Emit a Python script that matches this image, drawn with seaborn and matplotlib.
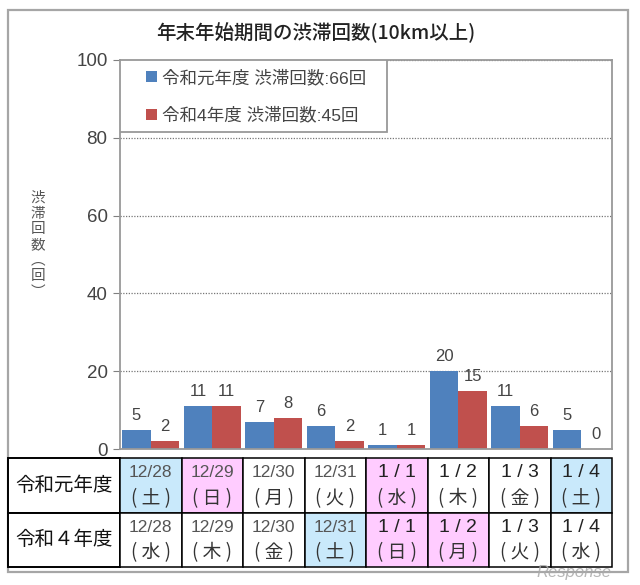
import matplotlib
matplotlib.use("Agg")
import matplotlib.pyplot as plt
from matplotlib.patches import Rectangle
import pandas as pd
import seaborn as sns

CJK = "Noto Sans CJK JP"
LATIN = "Liberation Sans"
plt.rcParams["font.family"] = [LATIN, CJK, "DejaVu Sans"]

categories = ["12/28", "12/29", "12/30", "12/31", "1/1", "1/2", "1/3", "1/4"]
series_names = ["令和元年度 渋滞回数:66回", "令和4年度 渋滞回数:45回"]
values_r1 = [5, 11, 7, 6, 1, 20, 11, 5]
values_r4 = [2, 11, 8, 2, 1, 15, 6, 0]
bar_colors = ["#4F81BD", "#C0504D"]
title = "年末年始期間の渋滞回数(10km以上)"
ylabel = "渋\n滞\n回\n数\n︵\n回\n︶"
row_labels = ["令和元年度", "令和４年度"]
dates_r1 = ["12/28", "12/29", "12/30", "12/31", "1 / 1", "1 / 2", "1 / 3", "1 / 4"]
days_r1 = ["( 土 )", "( 日 )", "( 月 )", "( 火 )", "( 水 )", "( 木 )", "( 金 )", "( 土 )"]
dates_r4 = ["12/28", "12/29", "12/30", "12/31", "1 / 1", "1 / 2", "1 / 3", "1 / 4"]
days_r4 = ["( 水 )", "( 木 )", "( 金 )", "( 土 )", "( 日 )", "( 月 )", "( 火 )", "( 水 )"]
fills_r1 = ["#C9E9FB", "#FFCCFF", "white", "white", "#FFCCFF", "white", "white", "#C9E9FB"]
fills_r4 = ["white", "white", "white", "#C9E9FB", "#FFCCFF", "#FFCCFF", "white", "white"]

W, H = 640, 585
fig = plt.figure(figsize=(W / 100, H / 100), dpi=100)
fig.add_artist(Rectangle((8 / W, 1 - 572 / H), 620 / W, 562 / H, transform=fig.transFigure,
                         fc="white", ec="#A6A6A6", lw=1.6, zorder=-5))


def box(l, t, r, b):
    return [l / W, 1 - b / H, (r - l) / W, (b - t) / H]


AX_W, AX_H = 492, 389
ax = fig.add_axes(box(120, 60, 612, 449))
ax.patch.set_alpha(0)
df = pd.DataFrame({
    "day": categories * 2,
    "count": values_r1 + values_r4,
    "series": [series_names[0]] * 8 + [series_names[1]] * 8,
})
sns.barplot(data=df, x="day", y="count", hue="series", palette=bar_colors,
            saturation=1, width=0.93, gap=0, ax=ax, legend=True)
ax.set_xlim(-0.5, 7.5)
ax.set_ylim(0, 100)
ax.set_yticks(range(0, 101, 20))
ax.set_xticks([])
ax.set_xlabel("")
ax.set_ylabel("")
ax.grid(axis="y", color="#777777", ls=(0, (1, 1.2)), lw=0.9)
ax.set_axisbelow(True)
ax.tick_params(axis="y", length=5, color="#808080", labelsize=13.5, labelcolor="#444444", pad=4)
for s in ax.spines.values():
    s.set_color("#999999")
    s.set_linewidth(1.3)
for c in ax.containers:
    ax.bar_label(c, fontsize=12, color="#444444", padding=5)

ax.add_patch(Rectangle((0, 1 - 72 / AX_H), 267 / AX_W, 72 / AX_H, transform=ax.transAxes,
                       fc="white", ec="#999999", lw=1.3, zorder=4))
leg = ax.legend(loc="upper left", bbox_to_anchor=(26 / AX_W, 1 - 9 / AX_H), borderaxespad=0,
                frameon=False, fontsize=12.6, labelcolor="#444444", handlelength=0.6,
                handleheight=0.6, handletextpad=0.3, labelspacing=1.2, borderpad=0, title=None)
leg.set_zorder(5)

fig.text(316 / W, 1 - 33 / H, title, ha="center", va="center", fontsize=14,
         color="#222222", fontweight="medium", family=[CJK])
fig.text(38 / W, 1 - 245 / H, ylabel, ha="center", va="center", fontsize=10.5,
         color="#555555", linespacing=1.15, family=[CJK])

# day table below the chart
tax = fig.add_axes(box(8, 458, 612, 567))
tax.set_xlim(0, 604)
tax.set_ylim(2, 0)
tax.axis("off")
cw = 492 / 8
x0 = 112
rows = [(dates_r1, days_r1, fills_r1), (dates_r4, days_r4, fills_r4)]
for r, (dates, days, fills) in enumerate(rows):
    tax.add_patch(Rectangle((0, r), x0, 1, fc="white", ec="black", lw=1.4, clip_on=False))
    tax.text(x0 / 2, r + 0.5, row_labels[r], ha="center", va="center", fontsize=14,
             color="#111111", family=[CJK])
    for i in range(8):
        x = x0 + i * cw
        tax.add_patch(Rectangle((x, r), cw, 1, fc=fills[i], ec="black", lw=1.1, clip_on=False))
        small = "12" in dates[i]
        tax.text(x + cw / 2, r + 0.27, dates[i], ha="center", va="center",
                 fontsize=12.5 if small else 14, color="#555555" if small else "#222222")
        tax.text(x + cw / 2, r + 0.74, days[i], ha="center", va="center",
                 fontsize=13.5, color="#333333", family=[CJK])

fig.text(574 / W, 1 - 572 / H, "Response", ha="center", va="center", fontsize=12,
         color="#AAAAAA", style="italic", alpha=0.85, zorder=10)

fig.savefig("out.png", dpi=100)
